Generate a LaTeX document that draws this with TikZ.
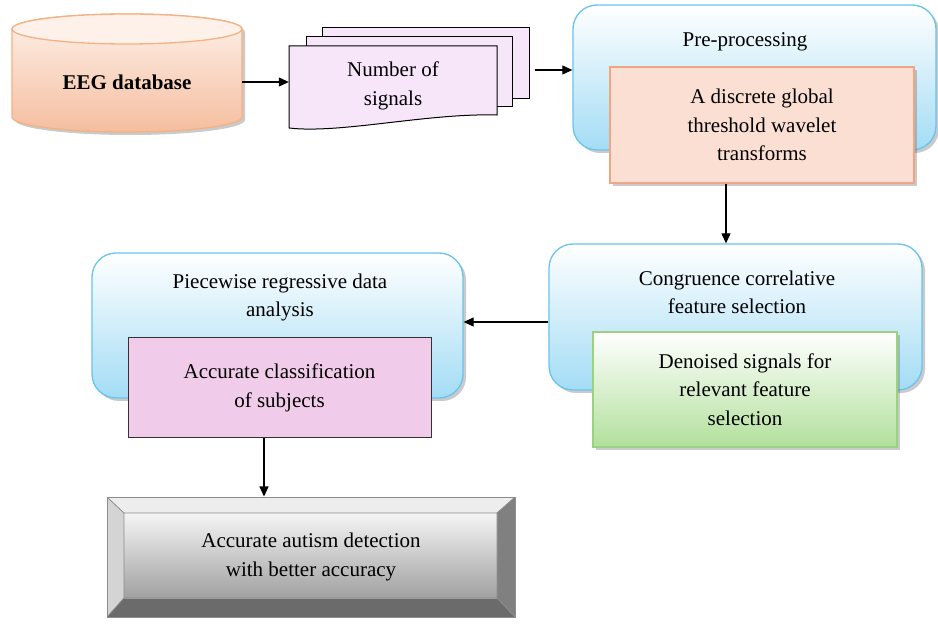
\documentclass[tikz,border=0pt]{standalone}
\usepackage{fontspec}
\setmainfont{Liberation Serif}
\usetikzlibrary{arrows.meta,positioning,shadows}

\definecolor{dbline}{HTML}{F4B183}
\definecolor{dbtop}{HTML}{FDF1EA}
\definecolor{dbfill}{HTML}{F5BE9F}
\definecolor{docfill}{HTML}{F7E6FA}
\definecolor{stageline}{HTML}{66C4EE}
\definecolor{stagefill}{HTML}{A3DCF5}
\definecolor{wavefill}{HTML}{FADFD2}
\definecolor{waveline}{HTML}{EFA685}
\definecolor{featfill}{HTML}{B2E09C}
\definecolor{featline}{HTML}{9BD282}
\definecolor{clsfill}{HTML}{F0CCEA}

\tikzset{
  txt/.style={font=\fontsize{21}{28.5}\selectfont, align=center},
  arr/.style={-{Triangle[length=10pt,width=9pt]}, line width=1.1pt},
  shad/.style={drop shadow={shadow xshift=3pt, shadow yshift=-3pt, opacity=0.35, fill=black!60}},
  stage/.style={draw=stageline, line width=1.3pt, rounded corners=24pt,
    top color=white, bottom color=stagefill, shad},
  doc/.style={draw=black, line width=1pt, fill=docfill},
  thrbox/.style={txt, draw=waveline, line width=1.3pt, fill=wavefill,
    minimum width=304pt, minimum height=116pt, shad},
  featbox/.style={txt, draw=featline, line width=1.3pt, top color=white, bottom color=featfill,
    minimum width=304pt, minimum height=115pt, shad},
  clsbox/.style={txt, draw=black!80, line width=1pt, fill=clsfill,
    minimum width=303pt, minimum height=100pt},
  finbox/.style={txt, minimum width=408pt, minimum height=120pt, draw=black!45, line width=1pt,
    path picture={
      \coordinate (b1) at ([shift={(17pt,-16pt)}]path picture bounding box.north west);
      \coordinate (b2) at ([shift={(-18pt,-16pt)}]path picture bounding box.north east);
      \coordinate (b3) at ([shift={(-18pt,19pt)}]path picture bounding box.south east);
      \coordinate (b4) at ([shift={(17pt,19pt)}]path picture bounding box.south west);
      \fill[black!7] (path picture bounding box.north west) -- (path picture bounding box.north east) -- (b2) -- (b1) -- cycle;
      \fill[black!17] (path picture bounding box.north west) -- (b1) -- (b4) -- (path picture bounding box.south west) -- cycle;
      \fill[black!50] (path picture bounding box.north east) -- (path picture bounding box.south east) -- (b3) -- (b2) -- cycle;
      \fill[black!58] (path picture bounding box.south west) -- (b4) -- (b3) -- (path picture bounding box.south east) -- cycle;
      \shade[top color=black!4, bottom color=black!37] (b1) rectangle (b3);
      \draw[black!45, line width=0.8pt] (b1) rectangle (b3)
        (b1) -- (path picture bounding box.north west) (b2) -- (path picture bounding box.north east)
        (b3) -- (path picture bounding box.south east) (b4) -- (path picture bounding box.south west);
    }},
}

\begin{document}
\begin{tikzpicture}[x=1pt,y=-1pt]
\useasboundingbox (0,0) rectangle (938,628);

% database
\draw[draw=dbline, line width=1.3pt, top color=dbtop, bottom color=dbfill, shad]
  (12,29) -- (12,117) arc[start angle=180, end angle=0, x radius=115, y radius=15]
  -- (242,29) arc[start angle=0, end angle=-180, x radius=115, y radius=15] -- cycle;
\draw[draw=dbline, line width=1.3pt, fill=dbtop] (127,29) ellipse[x radius=115, y radius=15];
\node[txt, font=\fontsize{21}{28.5}\selectfont\bfseries, minimum width=230pt] (db) at (127,82) {EEG database};

% signals
\node[doc, minimum width=207pt, minimum height=71pt] (doc3) at (425.5,63.5) {};
\node[doc, minimum width=206pt, minimum height=70pt] (doc2) at (409,72) {};
\draw[doc] (289,46) -- (497,46) -- (497,115) .. controls (427,113) and (340,134) .. (289,128) -- cycle;
\node[txt, minimum width=208pt] (sig) at (393,86) {Number of\\signals};

% pre-processing
\node[stage, minimum width=363pt, minimum height=145pt] (pre) at (754.5,77.5) {};
\node[txt] (pret) at (745,42) {Pre-processing};
\node[thrbox] (thr) at (762,125) {A discrete global\\threshold wavelet\\transforms};

% feature selection
\node[stage, minimum width=373pt, minimum height=146pt] (cong) at (735.5,317) {};
\node[txt] (congt) at (737,292.5) {Congruence correlative\\feature selection};
\node[featbox] (feat) at (745,389.5) {Denoised signals for\\relevant feature\\selection};

% regression
\node[stage, minimum width=371pt, minimum height=145pt] (piece) at (277.5,325.5) {};
\node[txt] (piecet) at (280,297.5) {Piecewise regressive data\\analysis};
\node[clsbox] (cls) at (279.5,388) {Accurate classification\\of subjects};

% result
\node[finbox] (fin) at (311,557) {Accurate autism detection\\with better accuracy};

\draw[arr] (db.east) -- (db.east -| sig.west);
\draw[arr] ([xshift=5pt,yshift=-6.5pt]doc3.east) -- ([yshift=-6.5pt]doc3.east -| pre.west);
\draw[arr] ([xshift=-36pt]thr.south) -- ([xshift=-36pt]thr.south |- cong.north);
\draw[arr] ([yshift=-5pt]cong.west) -- ([yshift=-5pt]cong.west -| piece.east);
\draw[arr] ([xshift=-15.5pt]cls.south) -- ([xshift=-15.5pt]cls.south |- fin.north);
\end{tikzpicture}
\end{document}
